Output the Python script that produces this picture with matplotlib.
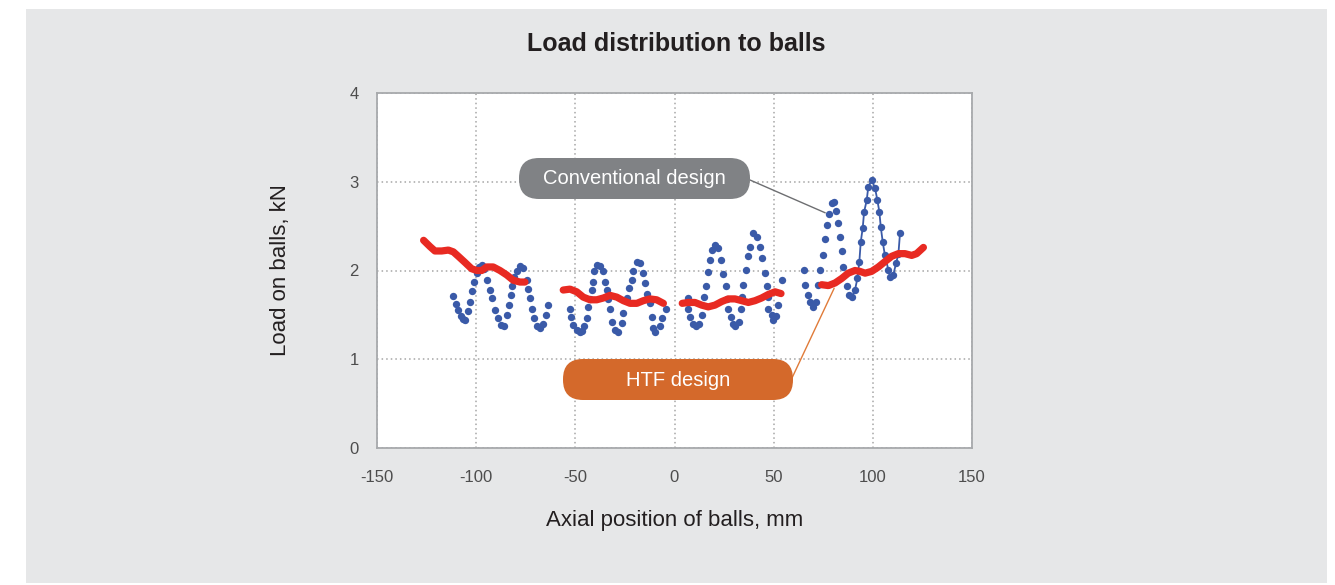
import matplotlib.pyplot as plt
from matplotlib.patches import FancyBboxPatch, Rectangle

plt.rcParams['font.family'] = ['Liberation Sans', 'DejaVu Sans']
plt.rcParams['axes.unicode_minus'] = False

# Conventional design: load on each ball (kN) vs axial position (mm)
conv_x1 = [-111.5, -110.3, -109.0, -107.7, -106.5, -105.5, -104.3, -103.1, -102.0, -101.0,
           -99.7, -98.5, -97.2, -96.0, -94.7, -93.0, -91.8, -90.5, -88.8, -87.5, -86.2,
           -84.6, -83.4, -82.4, -81.7, -80.7, -79.5, -77.9, -76.5, -74.5, -73.7, -72.9,
           -72.0, -70.7, -69.5, -67.8, -66.3, -65.0, -63.6]
conv_y1 = [1.71, 1.62, 1.55, 1.49, 1.45, 1.44, 1.54, 1.65, 1.77, 1.87,
           1.97, 2.04, 2.06, 2.02, 1.89, 1.78, 1.69, 1.55, 1.46, 1.39, 1.38,
           1.50, 1.61, 1.72, 1.82, 1.93, 2.00, 2.05, 2.03, 1.89, 1.79, 1.69,
           1.57, 1.46, 1.37, 1.35, 1.40, 1.50, 1.61]
conv_x2 = [-52.7, -52.4, -51.0, -49.3, -47.6, -46.5, -45.5, -44.3, -43.5, -42.6, -41.8,
           -41.3, -40.4, -39.2, -37.5, -35.9, -35.0, -34.2, -33.4, -32.6, -31.7, -30.0,
           -28.3, -26.6, -25.8, -24.1, -22.9, -21.6, -20.8, -19.0, -17.4, -15.7, -14.9,
           -14.0, -12.4, -11.5, -10.7, -9.8, -7.3, -6.1, -4.4]
conv_y2 = [1.57, 1.48, 1.39, 1.33, 1.31, 1.32, 1.37, 1.46, 1.59, 1.68, 1.78,
           1.87, 1.99, 2.06, 2.05, 1.99, 1.87, 1.78, 1.68, 1.57, 1.42, 1.33,
           1.31, 1.41, 1.52, 1.69, 1.80, 1.89, 2.00, 2.10, 2.08, 1.97, 1.86,
           1.74, 1.63, 1.48, 1.35, 1.31, 1.37, 1.46, 1.57]
conv_x3 = [6.6, 7.0, 7.8, 9.5, 10.7, 12.3, 13.7, 15.0, 15.7, 16.7, 17.9, 19.0, 20.4,
           22.0, 23.4, 24.6, 25.8, 26.5, 27.1, 28.5, 29.7, 30.5, 32.5, 33.5, 34.1,
           34.7, 35.9, 36.9, 38.1, 39.7, 41.4, 43.0, 44.3, 45.6, 46.5, 46.9, 47.3,
           49.0, 49.8, 51.0, 52.3, 54.4]
conv_y3 = [1.69, 1.57, 1.48, 1.40, 1.37, 1.40, 1.50, 1.70, 1.83, 1.98, 2.12, 2.23, 2.29,
           2.25, 2.12, 1.96, 1.82, 1.68, 1.57, 1.48, 1.40, 1.37, 1.42, 1.57, 1.70,
           1.84, 2.01, 2.16, 2.27, 2.42, 2.38, 2.27, 2.14, 1.97, 1.82, 1.70, 1.57,
           1.50, 1.44, 1.49, 1.61, 1.89]
conv_x4 = [65.3, 65.8, 67.5, 68.3, 70.0, 71.5, 72.5, 73.4, 74.7, 75.9, 77.1, 78.1,
           79.3, 80.5, 81.5, 82.6, 83.5, 84.3, 85.1, 86.8, 88.2]
conv_y4 = [2.01, 1.84, 1.72, 1.65, 1.59, 1.65, 1.84, 2.01, 2.17, 2.35, 2.51, 2.64,
           2.76, 2.77, 2.67, 2.54, 2.38, 2.22, 2.04, 1.82, 1.72]
conv_x5 = [89.4, 91.0, 92.2, 93.2, 93.9, 94.9, 95.6, 96.9, 97.7, 99.4, 101.1, 102.3,
           103.3, 104.0, 105.0, 106.1, 107.8, 108.7, 110.3, 111.7, 112.9, 113.7]
conv_y5 = [1.70, 1.78, 1.91, 2.10, 2.32, 2.48, 2.66, 2.79, 2.94, 3.02, 2.93, 2.79,
           2.66, 2.49, 2.32, 2.17, 2.01, 1.93, 1.95, 2.08, 2.19, 2.42]

# HTF design: load curve, four nut sections
htf_x1 = [-126.5, -123.3, -120.8, -117.4, -114.0, -111.5, -109.0, -105.6, -102.3,
          -99.7, -97.2, -94.7, -91.4, -88.0, -84.6, -81.3, -77.9, -75.4]
htf_y1 = [2.34, 2.27, 2.22, 2.22, 2.23, 2.21, 2.16, 2.09, 2.02,
          2.00, 2.00, 2.04, 2.04, 2.00, 1.95, 1.89, 1.87, 1.87]
htf_x2 = [-56.1, -52.7, -49.3, -46.0, -42.6, -39.2, -35.9, -32.5, -29.1, -25.8,
          -22.4, -19.0, -15.7, -12.4, -9.0, -5.6]
htf_y2 = [1.78, 1.79, 1.76, 1.70, 1.67, 1.67, 1.69, 1.72, 1.70, 1.66,
          1.63, 1.63, 1.66, 1.68, 1.67, 1.63]
htf_x3 = [3.9, 7.0, 10.3, 13.7, 17.0, 20.4, 23.8, 27.1, 30.5, 33.9, 37.2, 40.6,
          43.9, 47.3, 50.7, 53.7]
htf_y3 = [1.63, 1.64, 1.64, 1.61, 1.59, 1.61, 1.65, 1.68, 1.68, 1.66, 1.64, 1.66,
          1.69, 1.73, 1.76, 1.74]
htf_x4 = [74.2, 77.6, 81.0, 84.3, 87.6, 91.0, 93.5, 96.1, 99.4, 102.8, 106.1, 109.5,
          112.9, 116.2, 119.6, 122.1, 125.5]
htf_y4 = [1.84, 1.83, 1.86, 1.91, 1.97, 2.00, 1.99, 1.97, 1.99, 2.04, 2.10, 2.16,
          2.19, 2.19, 2.17, 2.19, 2.26]

x_ticks = [-150, -100, -50, 0, 50, 100, 150]
y_ticks = [0, 1, 2, 3, 4]

W, H = 1335, 585
fig = plt.figure(figsize=(W / 100, H / 100), dpi=100)
fig.patch.set_facecolor('white')

# grey panel behind everything, drawn in pixel coords
bg = fig.add_axes([0, 0, 1, 1], zorder=-1)
bg.set_xlim(0, W)
bg.set_ylim(H, 0)
bg.axis('off')
bg.add_patch(Rectangle((26, 9), 1301, 574, color='#e6e7e8', lw=0))

ax = fig.add_axes([377 / W, 1 - 448 / H, 595 / W, 355 / H])
ax.set_facecolor('white')
ax.set_xlim(-150, 150)
ax.set_ylim(0, 4)
ax.set_xticks(x_ticks)
ax.set_yticks(y_ticks)
ax.tick_params(length=0, labelsize=12, labelcolor='#4d4d4d')
ax.tick_params(axis='x', pad=16)
ax.tick_params(axis='y', pad=13)
ax.grid(True, linestyle=(0, (1, 2)), color='#a5a5a5', linewidth=1.1)
ax.set_axisbelow(True)
for s in ax.spines.values():
    s.set_color('#a7a9ac')
    s.set_linewidth(1.3)

blue = '#3a5aa8'
red = '#e82a22'
for cx, cy in [(conv_x1, conv_y1), (conv_x2, conv_y2), (conv_x3, conv_y3), (conv_x4, conv_y4)]:
    ax.plot(cx, cy, 'o', color=blue, ms=5.3, mec='none', zorder=3)
ax.plot(conv_x5, conv_y5, '-o', color=blue, ms=5.3, mec='none', lw=1.3, zorder=3)

for hx, hy in [(htf_x1, htf_y1), (htf_x2, htf_y2), (htf_x3, htf_y3), (htf_x4, htf_y4)]:
    ax.plot(hx, hy, '-', color=red, lw=5.2, solid_capstyle='round', zorder=4)

ax.set_xlabel('Axial position of balls, mm', fontsize=16, color='#231f20', labelpad=18)
ax.set_ylabel('Load on balls, kN', fontsize=16, color='#231f20', labelpad=42)

fig.text(676 / W, 1 - 44 / H, 'Load distribution to balls', ha='center', va='center',
         fontsize=18, color='#231f20', fontweight='bold')

# callout boxes (pixel coords on overlay)
ov = fig.add_axes([0, 0, 1, 1], zorder=5)
ov.set_xlim(0, W)
ov.set_ylim(H, 0)
ov.axis('off')
ov.patch.set_alpha(0)

ov.add_patch(FancyBboxPatch((519, 158), 231, 41,
                            boxstyle='round,pad=0,rounding_size=20',
                            fc='#808285', ec='none'))
ov.text(634.5, 179, 'Conventional design', ha='center', va='center',
        fontsize=14.5, color='white')
ov.add_patch(FancyBboxPatch((563, 359), 230, 41,
                            boxstyle='round,pad=0,rounding_size=20',
                            fc='#d4692b', ec='none'))
ov.text(678, 380, 'HTF design', ha='center', va='center', fontsize=14.5, color='white')

# leader lines from boxes to the curves
ax.annotate('', xy=(76.0, 2.65), xytext=(750, H - 180), textcoords='figure pixels',
            arrowprops=dict(arrowstyle='-', color='#6d6e71', lw=1.0,
                            shrinkA=0, shrinkB=0), zorder=6)
ax.annotate('', xy=(80.5, 1.80), xytext=(792, H - 378), textcoords='figure pixels',
            arrowprops=dict(arrowstyle='-', color='#e07b39', lw=1.0,
                            shrinkA=0, shrinkB=0), zorder=6)

fig.savefig('out.png', dpi=100)
